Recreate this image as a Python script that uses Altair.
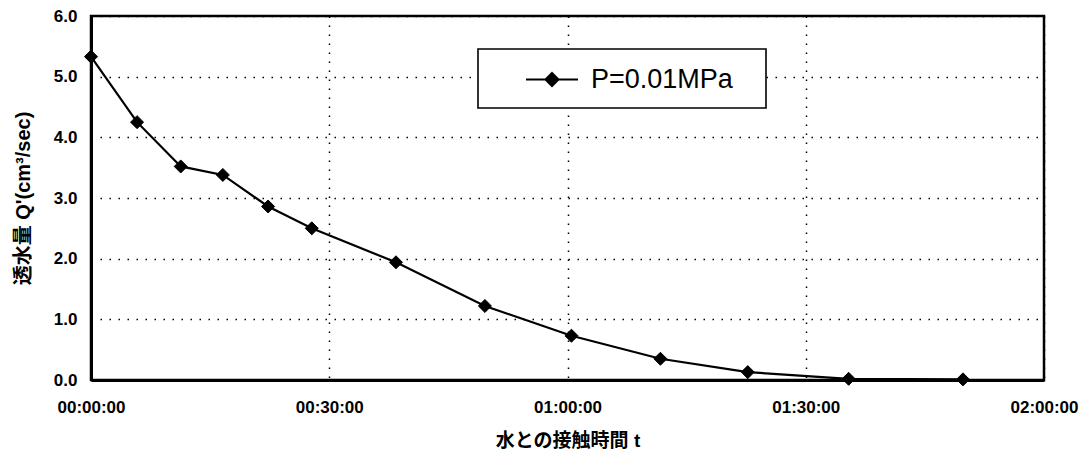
import altair as alt
import pandas as pd

# data
minutes = [0, 5.8, 11.3, 16.6, 22.3, 27.8, 38.4, 49.6, 60.5, 71.7, 82.7, 95.4, 109.8]
flow = [5.33, 4.25, 3.52, 3.38, 2.86, 2.50, 1.94, 1.22, 0.73, 0.35, 0.13, 0.02, 0.01]
series_name = "P=0.01MPa"
x_ticks = [0, 30, 60, 90, 120]
x_tick_labels = ["00:00:00", "00:30:00", "01:00:00", "01:30:00", "02:00:00"]
y_ticks = [0, 1, 2, 3, 4, 5, 6]
x_title = "水との接触時間 t"
y_title = "透水量 Q'(cm³/sec)"

df = pd.DataFrame({"t": minutes, "q": flow, "series": [series_name] * len(minutes)})
label_expr = "[" + ",".join(f"'{s}'" for s in x_tick_labels) + "][round(datum.value/30)]"

LATIN = "Liberation Sans"
TITLE_FONT = "Liberation Sans, Noto Sans CJK JP"

x_enc = alt.X(
    "t:Q",
    scale=alt.Scale(domain=[0, 120], nice=False),
    axis=alt.Axis(
        values=x_ticks, labelExpr=label_expr, title=x_title,
        labelFont=LATIN, labelFontSize=17, labelFontWeight="bold", labelColor="black",
        labelPadding=19, labelBaseline="top", labelFlush=False, labelOverlap=False,
        ticks=False, domainColor="black", domainWidth=3,
        grid=True, gridColor="black", gridDash=[1.5, 7.5], gridWidth=1.5,
        titleFont=TITLE_FONT, titleFontSize=19, titleFontWeight="bold", titleColor="black",
        titleY=60, titleBaseline="middle",
    ),
)
y_enc = alt.Y(
    "q:Q",
    scale=alt.Scale(domain=[0, 6], nice=False),
    axis=alt.Axis(
        values=y_ticks, format=".1f", title=y_title,
        labelFont=LATIN, labelFontSize=17, labelFontWeight="bold", labelColor="black",
        labelPadding=14, ticks=False, domainColor="black", domainWidth=3,
        grid=True, gridColor="black", gridDash=[1.5, 7.5], gridWidth=1.5,
        titleFont=TITLE_FONT, titleFontSize=20, titleFontWeight="bold", titleColor="black",
        titleX=-68, titleY=182, titleAngle=-90, titleBaseline="middle", titleAlign="center",
    ),
)

line = alt.Chart(df).mark_line(color="black", strokeWidth=2.2).encode(x=x_enc, y=y_enc)

# legend frame (white box with black border)
legend_box = alt.Chart(pd.DataFrame({"k": [0]})).mark_rect(
    fill="white", stroke="black", strokeWidth=1.6
).encode(
    x=alt.value(387), x2=alt.value(675), y=alt.value(33), y2=alt.value(92)
)

points = alt.Chart(df).mark_point(
    shape="diamond", filled=True, size=170, opacity=1, stroke="black", strokeWidth=1
).encode(
    x="t:Q",
    y="q:Q",
    color=alt.Color(
        "series:N",
        scale=alt.Scale(range=["black"]),
        legend=alt.Legend(
            title=None, orient="none", legendX=387, legendY=33, padding=3.5,
            symbolType="M-1,0L1,0M0,-0.25L0.25,0L0,0.25L-0.25,0Z",
            symbolSize=2704, symbolOffset=43.5, labelOffset=12,
            symbolStrokeWidth=2, symbolStrokeColor="black", symbolFillColor="black",
            labelFont=LATIN, labelFontSize=27, labelColor="black", labelLimit=400,
        ),
    ),
)

chart = (
    alt.layer(line, legend_box, points)
    .properties(
        width=953, height=364,
        autosize=alt.AutoSizeParams(type="none"),
        padding={"left": 91, "top": 16, "right": 44, "bottom": 74},
        background="white",
    )
    .configure_view(stroke="black", strokeWidth=2.5)
)

chart.save("out.html", embed_options={"renderer": "svg", "actions": False})
